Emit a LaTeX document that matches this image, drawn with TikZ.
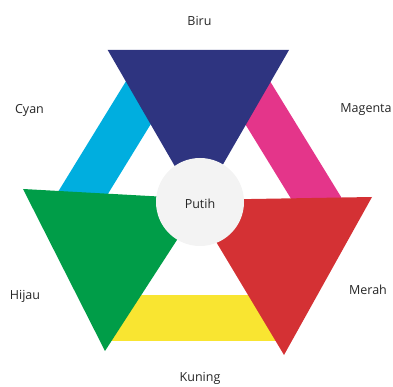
\documentclass[tikz,border=0pt]{standalone}
\usepackage{fontspec}
\setmainfont{Open Sans}
\usepackage{xcolor}
\definecolor{biru}{RGB}{46,52,128}
\definecolor{cyanband}{RGB}{0,174,223}
\definecolor{magentaband}{RGB}{228,53,138}
\definecolor{hijau}{RGB}{0,157,72}
\definecolor{merah}{RGB}{212,49,52}
\definecolor{kuning}{RGB}{249,229,49}
\definecolor{putih}{RGB}{243,243,243}
\begin{document}
\begin{tikzpicture}[x=1pt,y=-1pt,
    lbl/.style={font=\fontsize{12.5}{14}\selectfont, text=black!85, inner sep=0pt}]
            \useasboundingbox (0,0) rectangle (393,387);
            % bands
            \fill[cyanband] (139,60) -- (50,205) -- (87,228) -- (176,83) -- cycle;
            \fill[magentaband] (257,60) -- (346,205) -- (309,228) -- (220,83) -- cycle;
            \fill[kuning] (105,295) -- (285,295) -- (285,341) -- (105,341) -- cycle;
            % triangles
            \fill[biru] (107.7,50) -- (289,50) -- (198.4,207) -- cycle;
            \fill[hijau] (23,189) -- (203.5,199) -- (105,351) -- cycle;
            \fill[merah] (372,197) -- (191,200) -- (284,355) -- cycle;
            \fill[putih] (200,202) circle[radius=44];
            % labels
            \node[lbl] (biru) at (199.5,21){Biru};
            \node[lbl] (cyan) at (29.5,110){Cyan};
            \node[lbl] (magenta) at (366,110){Magenta};
            \node[lbl] (hijau) at (25,296){Hijau};
            \node[lbl] (merah) at (368,290){Merah};
            \node[lbl] (kuning) at (200,378){Kuning};
            \node[lbl] (putih) at (200,204){Putih};
        \end{tikzpicture}
\end{document}
